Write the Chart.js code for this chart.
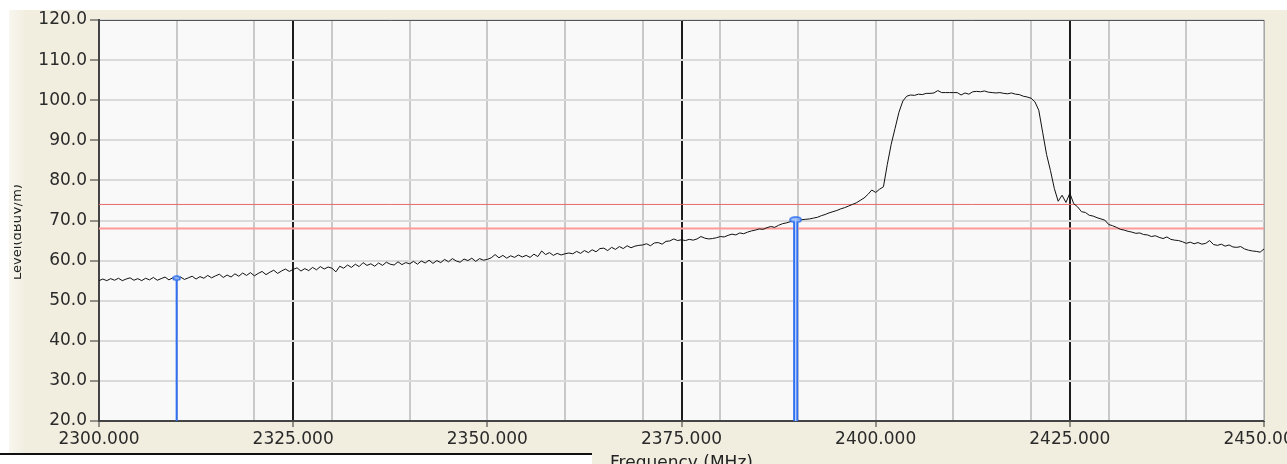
<!DOCTYPE html>
<html>
<head>
<meta charset="utf-8">
<script src="https://cdn.jsdelivr.net/npm/chart.js@4/dist/chart.umd.min.js"></script>
<style>
  html, body { margin: 0; padding: 0; background: #fff; overflow: hidden; }
  canvas { display: block; }
</style>
</head>
<body>
<canvas id="spectrum" width="1287" height="464"></canvas>
<script>
// sweep: 2300 MHz .. 2450 MHz, one reading every 0.5 MHz
const startFreq = 2300;
const stepMHz = 0.5;

// level in dBuV/m, 10 readings per row (= 5 MHz)
const levels = [
  55.0, 55.4, 55.0, 55.5, 55.1, 55.6, 55.0, 55.4, 55.7, 55.1, // 2300
  55.5, 55.0, 55.6, 55.2, 55.8, 55.1, 55.5, 55.9, 55.2, 55.7, // 2305
  55.5, 55.9, 55.3, 55.7, 56.1, 55.4, 56.0, 55.6, 56.3, 55.7, // 2310
  56.2, 56.6, 55.8, 56.4, 55.9, 56.7, 56.1, 56.9, 56.3, 57.0, // 2315
  56.2, 56.8, 57.3, 56.5, 57.1, 57.6, 56.8, 57.4, 57.9, 57.3, // 2320
  57.8, 58.2, 57.4, 58.0, 57.5, 58.3, 57.7, 58.5, 57.9, 58.4, // 2325
  58.1, 57.2, 58.6, 58.1, 58.9, 58.3, 59.1, 58.5, 59.5, 58.8, // 2330
  59.2, 58.6, 59.4, 58.8, 59.6, 59.1, 58.9, 59.7, 59.0, 59.5, // 2335
  59.2, 59.8, 59.1, 59.9, 59.4, 60.1, 59.3, 60.0, 59.5, 60.3, // 2340
  59.7, 60.5, 59.9, 59.6, 60.4, 60.0, 60.6, 59.8, 60.5, 60.1, // 2345
  60.3, 60.7, 61.5, 60.7, 61.3, 60.6, 61.2, 60.8, 61.4, 60.9, // 2350
  61.3, 60.8, 61.6, 61.0, 62.4, 61.5, 62.0, 61.3, 61.8, 61.4, // 2355
  61.7, 61.9, 61.7, 62.3, 61.8, 62.5, 62.0, 62.7, 62.2, 63.0, // 2360
  63.1, 62.5, 63.3, 62.8, 63.5, 63.0, 63.7, 63.2, 63.6, 63.8, // 2365
  63.9, 64.2, 63.7, 64.4, 64.5, 64.1, 64.8, 64.9, 65.4, 65.0, // 2370
  65.2, 65.0, 65.3, 65.1, 65.4, 66.0, 65.6, 65.4, 65.5, 65.7, // 2375
  66.0, 65.9, 66.3, 66.6, 66.4, 66.9, 66.7, 67.1, 67.4, 67.6, // 2380
  67.9, 67.8, 68.2, 68.5, 68.3, 68.8, 69.2, 69.4, 69.7, 70.0, // 2385
  70.2, 70.2, 70.3, 70.4, 70.6, 70.8, 71.2, 71.5, 71.9, 72.2, // 2390
  72.5, 72.9, 73.2, 73.6, 74.0, 74.4, 75.0, 75.6, 76.5, 77.6, // 2395
  77.0, 77.8, 78.4, 84.0, 89.0, 93.0, 97.0, 99.8, 101.0, 101.3, // 2400
  101.2, 101.5, 101.4, 101.7, 101.7, 101.8, 102.4, 101.9, 101.9, 101.9, // 2405
  101.9, 101.9, 101.3, 101.8, 101.5, 102.1, 102.2, 102.1, 102.3, 102.0, // 2410
  101.9, 101.8, 101.9, 101.7, 101.6, 101.8, 101.5, 101.4, 101.0, 100.8, // 2415
  100.5, 99.6, 97.5, 92.0, 86.5, 82.5, 78.0, 74.8, 76.3, 74.5, // 2420
  76.8, 74.2, 73.4, 72.2, 72.0, 71.3, 71.1, 70.7, 70.4, 70.1, // 2425
  69.0, 68.7, 68.3, 67.8, 67.6, 67.3, 67.1, 66.8, 66.9, 66.5, // 2430
  66.4, 66.0, 66.2, 65.8, 65.5, 65.9, 65.3, 65.1, 65.0, 64.7, // 2435
  64.3, 64.6, 64.2, 64.5, 64.1, 64.3, 65.0, 64.0, 63.8, 64.1, // 2440
  63.6, 63.9, 63.4, 63.3, 63.5, 62.9, 62.6, 62.4, 62.3, 62.1, // 2445
  62.9 // 2450
];

// limit lines
const limitUpper = 74;
const limitLower = 68;

// markers
const markerFreqs = [2310, 2389.7];
const markerLevels = [55.6, 70.2];

// band edge lines (black verticals)
const bandEdges = [2325, 2375, 2425];

const yMin = 20, yMax = 120, yStep = 10;
const xMin = 2300, xMax = 2450, xStep = 5, xLabelStep = 25;

const trace = levels.map((v, i) => ({ x: startFreq + i * stepMHz, y: v }));

// little marker head: flat rounded box, blue outline
function markerHead(w, h) {
  const c = document.createElement("canvas");
  c.width = w;
  c.height = h;
  const g = c.getContext("2d");
  g.fillStyle = "rgba(160,195,255,0.8)";
  g.strokeStyle = "#2f6ff0";
  g.lineWidth = 1.5;
  g.beginPath();
  g.ellipse(w / 2, h / 2, w / 2 - 1, h / 2 - 1, 0, 0, Math.PI * 2);
  g.fill();
  g.stroke();
  return c;
}
const heads = [markerHead(9, 6), markerHead(13, 7)];

const markerSet = (i, color, width, showHead) => ({
  data: [{ x: markerFreqs[i], y: markerLevels[i] }, { x: markerFreqs[i], y: yMin }],
  borderColor: color,
  borderWidth: width,
  pointRadius: [showHead ? 4 : 0, 0],
  pointStyle: [heads[i], "circle"],
});

const limitSet = (v, color, width) => ({
  data: [{ x: xMin, y: v }, { x: xMax, y: v }],
  borderColor: color,
  borderWidth: width,
  pointRadius: 0,
});

// background panel, plot frame, axis titles
const framePlugin = {
  id: "frame",
  beforeDraw(chart) {
    const { ctx, chartArea: a } = chart;
    ctx.save();
    ctx.fillStyle = "#ffffff";
    ctx.fillRect(0, 0, chart.width, chart.height);
    ctx.fillStyle = "#f1eee0";
    ctx.fillRect(9, 10, chart.width - 9, chart.height - 10);
    const g = ctx.createLinearGradient(9, 0, 26, 0);
    g.addColorStop(0, "#f8f6ee");
    g.addColorStop(1, "#f1eee0");
    ctx.fillStyle = g;
    ctx.fillRect(9, 10, 17, chart.height - 10);
    ctx.fillStyle = "#f9f9f9";
    ctx.fillRect(a.left, a.top, a.right - a.left, a.bottom - a.top);
    ctx.restore();
  },
  afterDraw(chart) {
    const { ctx, chartArea: a } = chart;
    ctx.save();
    // top and right edge of the plot
    ctx.strokeStyle = "#555";
    ctx.lineWidth = 1;
    ctx.beginPath();
    ctx.moveTo(a.left, a.top + 0.5);
    ctx.lineTo(a.right, a.top + 0.5);
    ctx.stroke();
    ctx.strokeStyle = "#a8a8a8";
    ctx.beginPath();
    ctx.moveTo(a.right + 0.5, a.top);
    ctx.lineTo(a.right + 0.5, a.bottom);
    ctx.stroke();

    // y title, cut at the panel edge like in the original window
    ctx.beginPath();
    ctx.rect(14, 0, 40, chart.height);
    ctx.clip();
    ctx.translate(21, 232);
    ctx.rotate(-Math.PI / 2);
    ctx.fillStyle = "#222";
    ctx.font = "13px 'DejaVu Sans'";
    ctx.textAlign = "center";
    ctx.textBaseline = "alphabetic";
    ctx.fillText("Level(dBuV/m)", 0, 0);
    ctx.restore();

    ctx.save();
    ctx.fillStyle = "#222";
    ctx.font = "17px 'DejaVu Sans'";
    ctx.textAlign = "center";
    ctx.textBaseline = "alphabetic";
    ctx.fillText("Frequency (MHz)", (a.left + a.right) / 2, 468);
    // window border at the bottom left
    ctx.fillStyle = "#ffffff";
    ctx.fillRect(0, 455, 592, 10);
    ctx.fillStyle = "#111";
    ctx.fillRect(0, 453, 592, 2);
    ctx.restore();
  },
};

new Chart(document.getElementById("spectrum"), {
  type: "line",
  data: {
    datasets: [
      markerSet(1, "#b8d0ff", 1, false),
      markerSet(1, "#2f6ff0", 5, true),
      markerSet(0, "#2f6ff0", 2, true),
      {
        data: trace,
        borderColor: "#111",
        borderWidth: 1,
        pointRadius: 0,
      },
      limitSet(limitUpper, "#e66a6a", 1),
      limitSet(limitLower, "#ff9a9a", 2),
    ],
  },
  plugins: [framePlugin],
  options: {
    responsive: false,
    animation: false,
    elements: { line: { tension: 0, fill: false } },
    layout: { autoPadding: false, padding: { left: 0, top: 20, right: 23, bottom: 0 } },
    plugins: { legend: { display: false }, tooltip: { enabled: false } },
    scales: {
      x: {
        type: "linear",
        min: xMin,
        max: xMax,
        border: { color: "#444", width: 2 },
        grid: {
          lineWidth: 2,
          color: (c) => {
            const v = c.tick.value;
            if (bandEdges.includes(v)) return "#1c1c1c";
            if (v % 10 === 0) return "#c9c9c9";
            return "rgba(0,0,0,0)";
          },
          tickColor: (c) => (c.tick.value % xLabelStep === 0 ? "#333" : "rgba(0,0,0,0)"),
          tickWidth: 1,
          tickLength: 6,
        },
        ticks: {
          stepSize: xStep,
          autoSkip: false,
          maxRotation: 0,
          minRotation: 0,
          padding: 2,
          color: "#2a2a2a",
          font: { family: "DejaVu Sans", size: 17 },
          callback: (v) => (v % xLabelStep === 0 ? v.toFixed(3) : ""),
        },
        afterFit(scale) {
          scale.height = 43;
          scale.paddingLeft = 0;
          scale.paddingRight = 0;
        },
      },
      y: {
        min: yMin,
        max: yMax,
        border: { color: "#444", width: 2 },
        grid: {
          lineWidth: 2,
          color: "#dadada",
          tickColor: "#333",
          tickWidth: 1,
          tickLength: 9,
        },
        ticks: {
          stepSize: yStep,
          padding: 3,
          color: "#2a2a2a",
          font: { family: "DejaVu Sans", size: 17 },
          callback: (v) => v.toFixed(1),
        },
        afterFit(scale) {
          scale.width = 99;
          scale.paddingTop = 0;
          scale.paddingBottom = 0;
        },
      },
    },
  },
});
</script>
</body>
</html>
